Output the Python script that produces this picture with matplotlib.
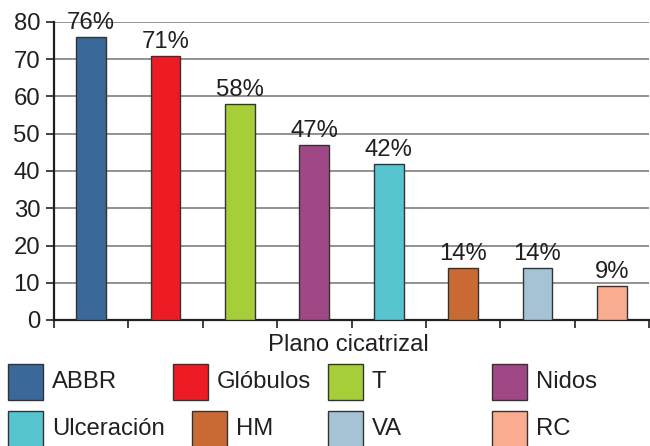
import matplotlib
matplotlib.use("Agg")
import matplotlib.pyplot as plt
from matplotlib.patches import Rectangle

plt.rcParams['font.family'] = ['Liberation Sans', 'DejaVu Sans']

categories = ["ABBR", "Glóbulos", "T", "Nidos", "Ulceración", "HM", "VA", "RC"]
values = [76, 71, 58, 47, 42, 14, 14, 9]
colors = ["#3A6899", "#ED1C24", "#A6CE39", "#A04886",
          "#56C5D0", "#C96A35", "#A6C3D5", "#F9AC8F"]
xlabel = "Plano cicatrizal"
yticks = [0, 10, 20, 30, 40, 50, 60, 70, 80]

txt = "#231F20"
fs = 17.2

fig = plt.figure(figsize=(6.5, 4.46), dpi=100)
ax = fig.add_axes([54 / 650, 1 - 320 / 446, 595 / 650, 298 / 446])

x = list(range(len(categories)))
ax.bar(x, values, width=0.4, color=colors, edgecolor="#333333", linewidth=1.0, zorder=3)
for xi, v in zip(x, values):
    ax.text(xi, v + 0.8, f"{v}%", ha="center", va="bottom", fontsize=fs, color=txt, zorder=4)

ax.set_xlim(-0.5, len(categories) - 0.5)
ax.set_ylim(0, 80)
ax.set_yticks(yticks)
ax.set_yticklabels([str(t) for t in yticks], fontsize=fs, color=txt)
ax.yaxis.grid(True, color="#7f7f7f", linewidth=1.2, zorder=0)
ax.set_axisbelow(True)

ax.set_xticks([i - 0.5 for i in range(len(categories) + 1)])
ax.set_xticklabels([])
ax.tick_params(axis="x", direction="out", length=6, width=1.2, color="#231F20")
ax.tick_params(axis="y", direction="out", length=6, width=1.2, color="#231F20", pad=4)

for s in ["top", "right"]:
    ax.spines[s].set_visible(False)
ax.spines["left"].set_linewidth(1.6)
ax.spines["bottom"].set_linewidth(1.6)
ax.spines["left"].set_color("#231F20")
ax.spines["bottom"].set_color("#231F20")

fig.text(348 / 650, 1 - 345 / 446, xlabel, ha="center", va="center", fontsize=fs, color=txt)

# legend drawn as two rows of swatches with labels
patch_x = [8, 173, 328, 492, 8, 192, 328, 492]
row_y = [382, 429]
pw, ph = 35, 36
for i, (name, c) in enumerate(zip(categories, colors)):
    px = patch_x[i]
    cy = row_y[i // 4]
    fig.patches.append(Rectangle((px / 650, 1 - (cy + ph / 2) / 446), pw / 650, ph / 446,
                                 transform=fig.transFigure, facecolor=c,
                                 edgecolor="#333333", linewidth=1.0))
    fig.text((px + pw + 9) / 650, 1 - cy / 446, name, ha="left", va="center",
             fontsize=fs, color=txt)

fig.savefig("out.png", dpi=100)
